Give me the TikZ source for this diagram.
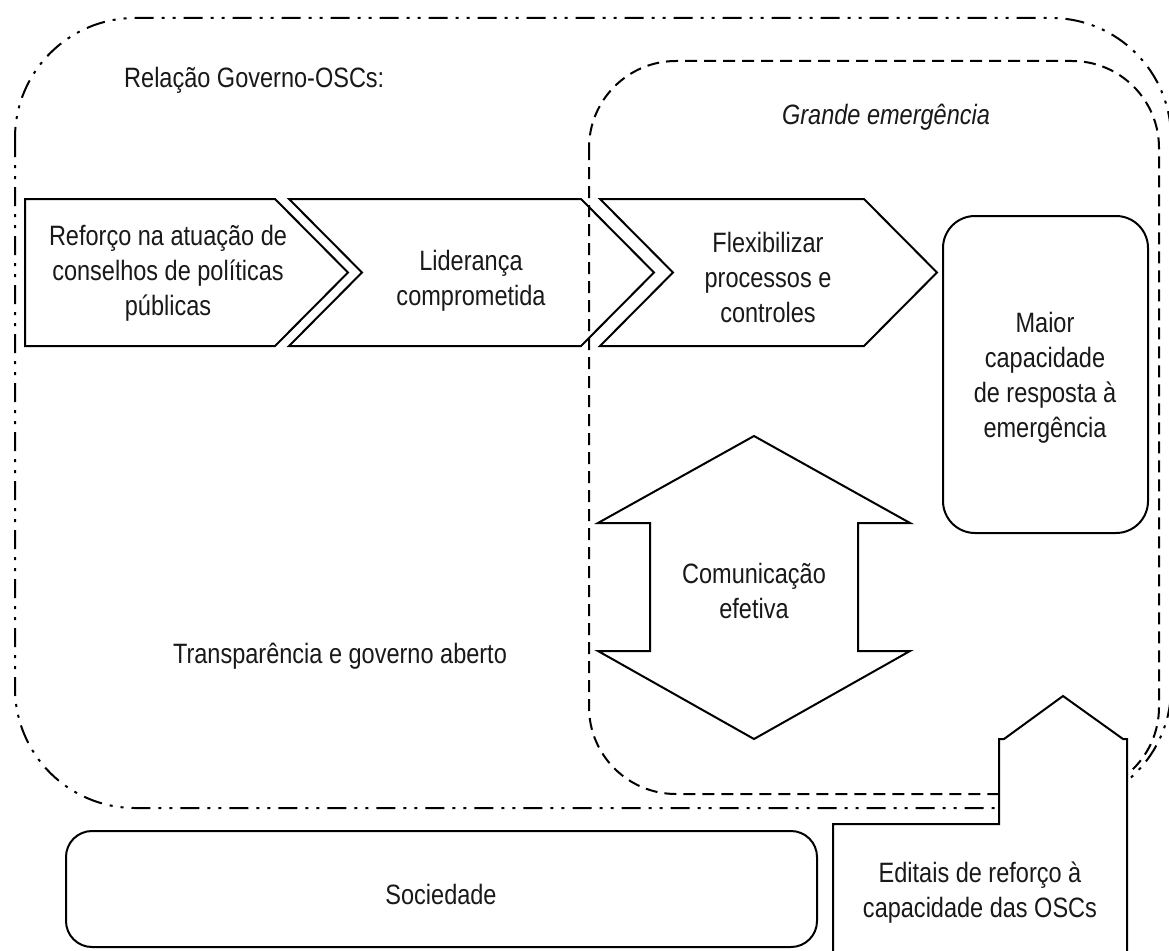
\documentclass[tikz,border=0pt]{standalone}
\usepackage{fontspec}
\setmainfont[FakeStretch=0.84]{Liberation Sans}
\tikzset{
  lbl/.style={font=\fontsize{28}{35}\selectfont, align=center, inner sep=0pt, text=black!90},
  shp/.style={draw=black, line width=2pt, line join=miter},
  dashbox/.style={draw=black, line width=2pt, dash pattern=on 12pt off 7pt},
  ddbox/.style={draw=black, line width=2pt, dash pattern=on 19pt off 8pt on 3pt off 8pt on 3pt off 8pt},
  rbox/.style={draw=black, line width=2pt, inner sep=0pt},
}
\begin{document}
\begin{tikzpicture}[x=1pt,y=-1pt]
\useasboundingbox (0,0) rectangle (1169,950);
\fill[white] (0,0) rectangle (1169,950);
% group frames
\draw[ddbox, rounded corners=120pt] (15,18) rectangle (1171,808);
\draw[dashbox, rounded corners=87pt] (589,61) rectangle (1159,794);
% chevrons
\draw[shp] (25,199) -- (275,199) -- (348,272.5) -- (275,346) -- (25,346) -- cycle;
\draw[shp] (289,199) -- (581,199) -- (654,272.5) -- (581,346) -- (289,346) -- (362,272.5) -- cycle;
\draw[shp] (600,199) -- (864,199) -- (937,272.5) -- (864,346) -- (600,346) -- (673,272.5) -- cycle;
% double arrow
\draw[shp] (754,436) -- (910,523) -- (858,523) -- (858,651) -- (910,651) -- (754,739)
  -- (598,651) -- (650,651) -- (650,523) -- (598,523) -- cycle;
% boxes
\node[rbox, rounded corners=32pt, minimum width=205pt, minimum height=317pt] (maiorbox) at (1045.5,374.5) {};
\node[rbox, rounded corners=26pt, minimum width=751pt, minimum height=116pt] (socbox) at (441.5,889) {};
% editais shape
\draw[shp, fill=white] (833,970) -- (833,824) -- (999,824) -- (999,739) -- (1004,739) -- (1063,696)
  -- (1123,739) -- (1127,739) -- (1127,970) -- cycle;
% labels
\node[lbl, anchor=base west] (rel) at (124,87) {Relação Governo-OSCs:};
\node[lbl, font=\fontsize{28}{35}\selectfont\itshape] (grande) at (886,117) {Grande emergência};
\node[lbl] (reforco) at (168,273) {Reforço na atuação de\\conselhos de políticas\\públicas};
\node[lbl] (lider) at (471,281) {Liderança\\comprometida};
\node[lbl] (flex) at (768,277) {Flexibilizar\\processos e\\controles};
\node[lbl] (maior) at (1045,378) {Maior\\capacidade\\de resposta à\\emergência};
\node[lbl] (comun) at (754,591) {Comunicação\\efetiva};
\node[lbl] (transp) at (340,656) {Transparência e governo aberto};
\node[lbl] (soc) at (441,894) {Sociedade};
\node[lbl] (edit) at (980,893) {Editais de reforço à\\capacidade das OSCs};
\end{tikzpicture}
\end{document}
